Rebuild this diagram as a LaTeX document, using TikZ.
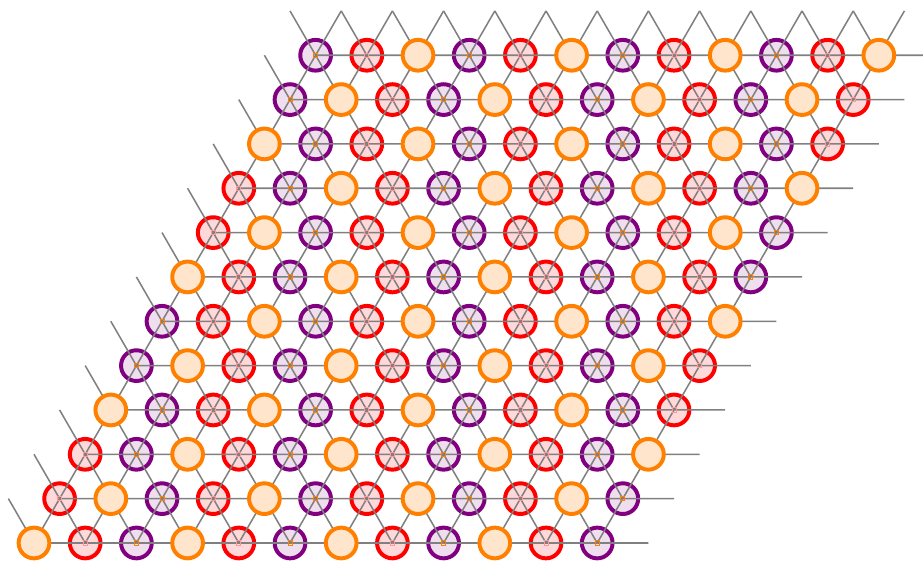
\documentclass[tikz,border=0pt]{standalone}
\definecolor{sitepurple}{RGB}{128,0,128}

\begin{document}
\begin{tikzpicture}[
    site/.style={circle, inner sep=0pt, minimum size=0.6cm, line width=2.2pt},
    osite/.style={site, draw=orange, fill=orange!20},
    rsite/.style={site, draw=red, fill=red!15},
    psite/.style={site, draw=sitepurple, fill=sitepurple!13},
    bond/.style={draw=gray, line width=0.85pt},
    ptick/.style={rectangle, inner sep=0pt, minimum size=0.08cm, draw=orange, line width=0.5pt},
    rtick/.style={rectangle, inner sep=0pt, minimum size=0.08cm, draw=red!40, line width=0.5pt}
  ]
  \clip (-0.664,-0.371) rectangle (17.363,10.605);

  % Gitterpunkte
  \foreach \j in {0,...,12}
    \foreach \i in {-1,...,12}
      \coordinate (p-\i-\j) at ({\i+0.5*\j},{0.866*\j});

  % rote und violette Plaetze
  \foreach \j in {0,...,11}
    \foreach \i in {0,...,11} {
      \pgfmathtruncatemacro{\col}{{0,1,2,1,0,2,1,2,0,0,2,1,2,0,1,2,1,0}[3*mod(\j,6)+mod(\i,3)]}
      \ifnum\col=1 \node[rsite] (v-\i-\j) at (p-\i-\j) {}; \fi
      \ifnum\col=2 \node[psite] (v-\i-\j) at (p-\i-\j) {}; \fi
    }

  % Bindungen
  \foreach \j in {0,...,11}
    \foreach \i in {0,...,11} {
      \pgfmathtruncatemacro{\ip}{\i+1}
      \pgfmathtruncatemacro{\im}{\i-1}
      \pgfmathtruncatemacro{\jp}{\j+1}
      \draw[bond] (p-\i-\j) -- (p-\ip-\j)
                  (p-\i-\j) -- (p-\i-\jp)
                  (p-\i-\j) -- (p-\im-\jp);
    }

  % Markierungen und orange Plaetze
  \foreach \j in {0,...,11}
    \foreach \i in {0,...,11} {
      \pgfmathtruncatemacro{\col}{{0,1,2,1,0,2,1,2,0,0,2,1,2,0,1,2,1,0}[3*mod(\j,6)+mod(\i,3)]}
      \ifnum\col=0 \node[osite] (v-\i-\j) at (p-\i-\j) {}; \fi
      \ifnum\col=1 \node[rtick] (m-\i-\j) at (p-\i-\j) {}; \fi
      \ifnum\col=2 \node[ptick] (m-\i-\j) at (p-\i-\j) {}; \fi
    }

\end{tikzpicture}
\end{document}
